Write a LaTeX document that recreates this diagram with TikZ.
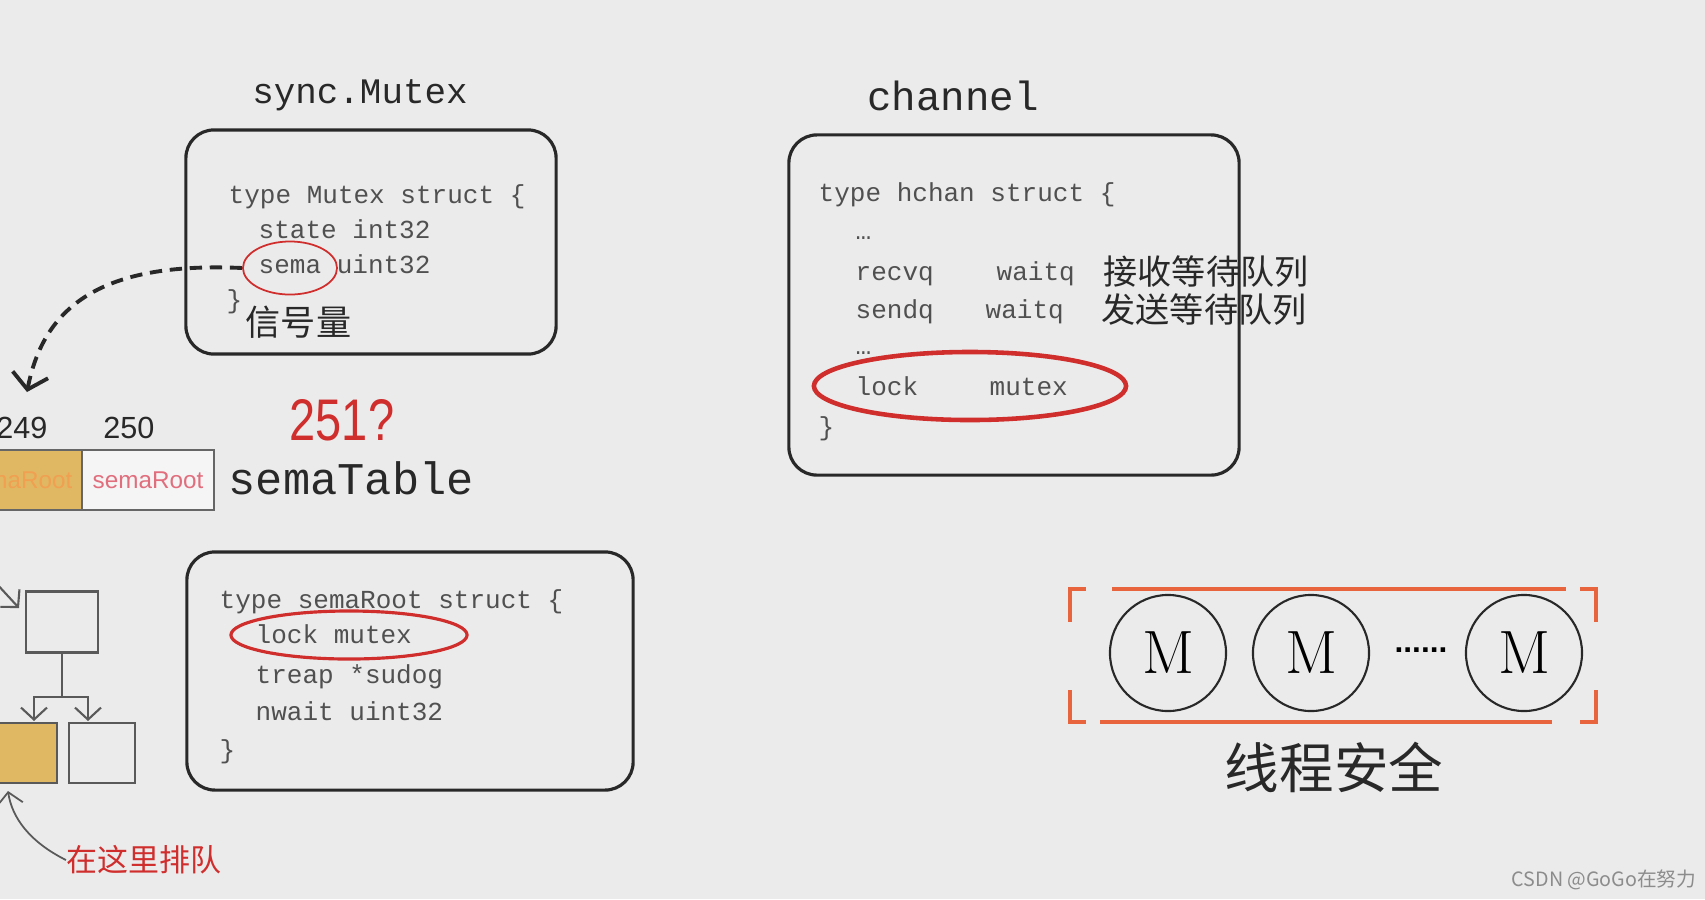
\documentclass[tikz,border=0pt]{standalone}
\usepackage{fontspec}
\setmonofont{Liberation Mono}
\newfontfamily\cjk{Noto Sans CJK SC}
\newfontfamily\numfont{Liberation Sans}
\newfontfamily\askfont[FakeStretch=0.8]{Liberation Sans}
\usepackage{tikz}
\definecolor{bggray}{RGB}{235,235,235}
\definecolor{codegray}{RGB}{80,80,80}
\definecolor{inkdark}{RGB}{40,40,40}
\definecolor{ringred}{RGB}{208,45,45}
\definecolor{rootgold}{RGB}{224,184,100}
\definecolor{rootorange}{RGB}{240,160,80}
\definecolor{rootpink}{RGB}{225,110,125}
\definecolor{bracketorange}{RGB}{232,100,60}
\definecolor{markgray}{RGB}{140,140,140}
\usetikzlibrary{arrows.meta, positioning, shapes.geometric}
\tikzset{
    codebox/.style={draw=inkdark, line width=0.9pt, rounded corners=0.28cm, inner sep=0pt},
    codeline/.style={anchor=west, inner sep=0pt, text=codegray, text height=0.7em, text depth=0.2em, font=\ttfamily\fontsize{7.4}{9}\selectfont},
    cjknote/.style={anchor=west, inner sep=0pt, text=inkdark, font=\cjk\fontsize{9.7}{11}\selectfont},
    titletext/.style={text=inkdark, inner sep=0pt},
    ringmark/.style={ellipse, draw=ringred, inner sep=0pt},
    numlabel/.style={inner sep=0pt, text=inkdark, font=\numfont\fontsize{8.7}{10}\selectfont},
    tablecell/.style={draw=black!60, line width=0.6pt, minimum height=0.6cm, inner sep=0pt, font=\numfont\fontsize{6.9}{8}\selectfont},
    treebox/.style={draw=black!65, line width=0.7pt, minimum width=0.66cm, minimum height=0.6cm, inner sep=0pt},
    treeline/.style={draw=black!65, line width=0.6pt},
    treearrow/.style={treeline, -{Straight Barb[length=1.2mm,width=2.6mm]}},
    semaarrow/.style={draw=inkdark, line width=1.1pt, dash pattern=on 3.5pt off 2.2pt, -{Straight Barb[length=1.5mm,width=3.6mm]}},
    mcircle/.style={circle, draw=inkdark, line width=0.6pt, minimum size=1.16cm, inner sep=0pt, font=\fontsize{17.4}{20}\selectfont},
    bracketline/.style={draw=bracketorange, line width=1pt}
}
\begin{document}
\begin{tikzpicture}[x=0.01cm, y=-0.01cm]
  \fill[bggray] (0,0) rectangle (1705,899);
  \useasboundingbox (0,0) rectangle (1705,899);

  % sync.Mutex
  \node[titletext, font=\ttfamily\fontsize{10.2}{12}\selectfont] (mutexTitle) at (360,95) {sync.Mutex};
  \node[codebox, minimum width=3.7cm, minimum height=2.24cm] (mutexBox) at (371,242) {};
  \node[codeline] (mutexHead) at (228,195) {type Mutex struct \{};
  \node[codeline] (mutexState) at (258,230) {state int32};
  \node[codeline] (mutexSema) at (258,265) {sema uint32};
  \node[codeline] (mutexEnd) at (226,300) {\}};
  \node[cjknote, font=\cjk\fontsize{10}{12}\selectfont] (mutexNote) at (245,322) {信号量};
  \node[ringmark, line width=0.5pt, minimum width=0.94cm, minimum height=0.53cm] (semaRing) at (290,268) {};

  \coordinate (semaTip) at (27,392);
  \draw[semaarrow] (semaRing.west) .. controls (110,262) and (45,300) .. (semaTip);

  % semaTable
  \node[numlabel] (idx249) at (22,428) {249};
  \node[numlabel] (idx250) at (129,428) {250};
  \node[tablecell, minimum width=1.3cm, fill=rootgold, text=rootorange] (cell249) at (17,480) {semaRoot};
  \node[tablecell, minimum width=1.32cm, fill=white!50!bggray, text=rootpink] (cell250) at (148,480) {semaRoot};
  \node[titletext, anchor=west, font=\ttfamily\fontsize{12.9}{15}\selectfont] (tableLabel) at (228,478) {semaTable};
  \node[text=ringred, font=\askfont\fontsize{16.7}{18}\selectfont] (askLabel) at (342,420) {251?};

  % treap
  \node[treebox, minimum width=0.72cm, minimum height=0.61cm] (treeTop) at (62,622) {};
  \node[treebox, fill=rootgold] (treeLeft) at (24,753) {};
  \node[treebox] (treeRight) at (102,753) {};
  \coordinate (treeJoin) at (62,697);
  \coordinate (treeLeftIn) at (34,721);
  \coordinate (treeRightIn) at (88,721);
  \coordinate (treeFrom) at (-4,583);
  \coordinate (treeTopIn) at (19,608);
  \draw[treeline] (treeTop) -- (treeJoin);
  \draw[treearrow] (treeJoin) -| (treeLeftIn);
  \draw[treearrow] (treeJoin) -| (treeRightIn);
  \draw[treearrow] (treeFrom) -- (treeTopIn);

  \node[text=ringred, inner sep=0pt, font=\cjk\fontsize{8.8}{10}\selectfont] (queueNote) at (144,860) {在这里排队};
  \coordinate (queueTip) at (8,791);
  \draw[treearrow, line width=0.5pt] (queueNote.west) .. controls (30,842) and (12,818) .. (queueTip);

  % semaRoot
  \node[codebox, minimum width=4.46cm, minimum height=2.38cm] (rootBox) at (410,671) {};
  \node[codeline] (rootHead) at (219,600) {type semaRoot struct \{};
  \node[codeline] (rootLock) at (255,635) {lock mutex};
  \node[codeline] (rootTreap) at (255,675) {treap *sudog};
  \node[codeline] (rootWait) at (255,712) {nwait uint32};
  \node[codeline] (rootEnd) at (219,750) {\}};
  \node[ringmark, line width=0.9pt, minimum width=2.36cm, minimum height=0.48cm] (rootRing) at (349,635) {};

  % channel
  \node[titletext, font=\ttfamily\fontsize{11.6}{14}\selectfont] (chanTitle) at (953,96) {channel};
  \node[codebox, minimum width=4.5cm, minimum height=3.4cm] (chanBox) at (1014,305) {};
  \node[codeline] (chanHead) at (818,193) {type hchan struct \{};
  \node[codeline] (chanDotsA) at (855,231) {…};
  \node[codeline] (chanRecv) at (855,272) {recvq};
  \node[codeline] (chanRecvType) at (996,272) {waitq};
  \node[cjknote] (chanRecvNote) at (1103,272) {接收等待队列};
  \node[codeline] (chanSend) at (855,310) {sendq};
  \node[codeline] (chanSendType) at (985,310) {waitq};
  \node[cjknote] (chanSendNote) at (1101,310) {发送等待队列};
  \node[codeline] (chanDotsB) at (855,346) {…};
  \node[codeline] (chanLock) at (855,387) {lock};
  \node[codeline] (chanLockType) at (989,387) {mutex};
  \node[codeline] (chanEnd) at (818,427) {\}};
  \node[ringmark, line width=1.3pt, minimum width=3.12cm, minimum height=0.68cm] (chanRing) at (970,386) {};

  % threads
  \node[mcircle] (mFirst) at (1168,653) {M};
  \node[mcircle] (mSecond) at (1311,653) {M};
  \node[inner sep=0pt, font=\numfont\bfseries\fontsize{9}{10}\selectfont] (mDots) at (1421,650) {......};
  \node[mcircle] (mLast) at (1524,653) {M};
  \draw[bracketline] (1112,589) -- (1566,589);
  \draw[bracketline] (1100,722) -- (1552,722);
  \draw[bracketline] (1086,589) -- (1070,589) -- (1070,622);
  \draw[bracketline] (1070,690) -- (1070,722) -- (1086,722);
  \draw[bracketline] (1580,589) -- (1596,589) -- (1596,622);
  \draw[bracketline] (1596,690) -- (1596,722) -- (1580,722);
  \node[text=inkdark, font=\cjk\fontsize{15.5}{18}\selectfont] (safeLabel) at (1334,767) {线程安全};

  \node[text=markgray, font=\cjk\fontsize{5.6}{7}\selectfont] (markLabel) at (1604,880) {CSDN @GoGo在努力};
\end{tikzpicture}
\end{document}
